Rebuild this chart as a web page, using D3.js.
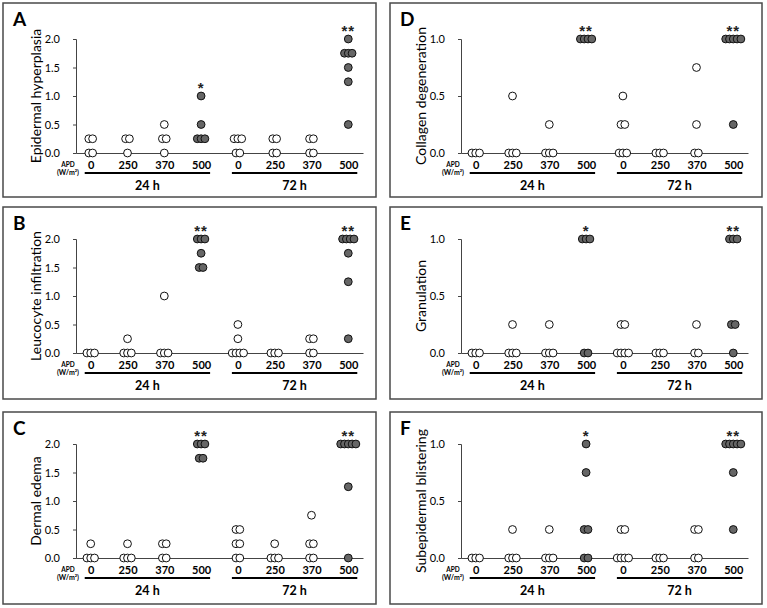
<!DOCTYPE html>
<html>
<head>
<meta charset="utf-8">
<script src="https://cdn.jsdelivr.net/npm/d3@7"></script>
<style>
  body { margin: 0; background: #fff; }
  svg { display: block; font-family: Lato, "Liberation Sans", sans-serif; }
</style>
</head>
<body>
<svg id="chart" width="767" height="608"></svg>
<script>
// doses (W/m2) for each of the 8 groups, two time points
var doses = ["0", "250", "370", "500", "0", "250", "370", "500"];
var periods = ["24 h", "72 h"];
var panelLetters = ["A", "B", "C", "D", "E", "F"];
var scoreNames = ["Epidermal hyperplasia", "Leucocyte infiltration", "Dermal edema",
                  "Collagen degeneration", "Granulation", "Subepidermal blistering"];
var scoreMax = [2, 2, 2, 1, 1, 1];
var ticksTwo = [0, 0.5, 1, 1.5, 2];
var ticksOne = [0, 0.5, 1];

// individual scores per group
var epidermal = [
  [0.25, 0.25, 0, 0],
  [0.25, 0.25, 0],
  [0.5, 0.25, 0.25, 0],
  [1, 0.5, 0.25, 0.25, 0.25],
  [0.25, 0.25, 0.25, 0, 0],
  [0.25, 0.25, 0, 0],
  [0.25, 0.25, 0, 0],
  [2, 1.75, 1.75, 1.75, 1.5, 1.25, 0.5]
];
var leucocyte = [
  [0, 0, 0],
  [0.25, 0, 0, 0],
  [1, 0, 0, 0],
  [2, 2, 2, 1.75, 1.5, 1.5],
  [0.5, 0.25, 0, 0, 0, 0],
  [0, 0, 0],
  [0.25, 0.25, 0, 0],
  [2, 2, 2, 2, 1.75, 1.25, 0.25]
];
var edema = [
  [0.25, 0, 0, 0],
  [0.25, 0, 0, 0],
  [0.25, 0.25, 0, 0],
  [2, 2, 2, 1.75, 1.75],
  [0.5, 0.5, 0.25, 0.25, 0, 0],
  [0.25, 0, 0, 0],
  [0.75, 0.25, 0.25, 0, 0],
  [2, 2, 2, 2, 2, 1.25, 0]
];
var collagen = [
  [0, 0, 0],
  [0.5, 0, 0, 0],
  [0.25, 0, 0, 0],
  [1, 1, 1, 1],
  [0.5, 0.25, 0.25, 0, 0, 0],
  [0, 0, 0],
  [0.75, 0.25, 0, 0],
  [1, 1, 1, 1, 1, 0.25]
];
var granulation = [
  [0, 0, 0],
  [0.25, 0, 0, 0],
  [0.25, 0, 0, 0],
  [1, 1, 1, 0, 0],
  [0.25, 0.25, 0, 0, 0, 0],
  [0, 0, 0],
  [0.25, 0, 0],
  [1, 1, 1, 0.25, 0.25, 0]
];
var blistering = [
  [0, 0, 0],
  [0.25, 0, 0, 0],
  [0.25, 0, 0, 0],
  [1, 0.75, 0.25, 0.25, 0, 0],
  [0.25, 0.25, 0, 0, 0, 0],
  [0, 0, 0],
  [0.25, 0.25, 0, 0],
  [1, 1, 1, 1, 1, 0.75, 0.25]
];
var panelScores = [epidermal, leucocyte, edema, collagen, granulation, blistering];

// significance marks above each group
var sigEpidermal = ["", "", "", "*", "", "", "", "**"];
var sigLeucocyte = ["", "", "", "**", "", "", "", "**"];
var sigEdema = ["", "", "", "**", "", "", "", "**"];
var sigCollagen = ["", "", "", "**", "", "", "", "**"];
var sigGranulation = ["", "", "", "*", "", "", "", "**"];
var sigBlistering = ["", "", "", "*", "", "", "", "**"];
var panelSigs = [sigEpidermal, sigLeucocyte, sigEdema, sigCollagen, sigGranulation, sigBlistering];

var svg = d3.select('#chart');

var colX = [3, 390], colW = [373, 372];
var rowY = [3, 207, 412], rowH = [194, 192, 192];
var plotTop = [39, 239, 444];
var axisX = [76, 461];
var plotW = 287, plotH = 114;
var spread = 3.8;

panelScores.forEach(function (scores, p) {
    var c = p < 3 ? 0 : 1, r = p % 3;
    var g = svg.append('g');

    g.append('rect')
        .attr('x', colX[c]).attr('y', rowY[r])
        .attr('width', colW[c]).attr('height', rowH[r])
        .attr('fill', 'none')
        .attr('stroke', '#4a4a4a')
        .attr('stroke-width', 1.5);

    g.append('text')
        .attr('x', colX[c] + 10).attr('y', rowY[r] + 23)
        .style('font-size', '19px').style('font-weight', 'bold')
        .text(panelLetters[p]);

    var x = d3.scalePoint()
        .domain(d3.range(8))
        .range([axisX[c], axisX[c] + plotW])
        .padding(0.4);

    var y = d3.scaleLinear()
        .domain([0, scoreMax[p]])
        .range([plotTop[r] + plotH, plotTop[r]]);

    // y axis
    var yAxis = d3.axisLeft(y)
        .tickValues(scoreMax[p] === 2 ? ticksTwo : ticksOne)
        .tickFormat(d3.format('.1f'))
        .tickSize(3)
        .tickPadding(13);
    var ya = g.append('g')
        .attr('transform', 'translate(' + axisX[c] + ',0)')
        .call(yAxis);
    ya.selectAll('path, line').attr('stroke', '#444');
    ya.selectAll('text').style('font-size', '11px').style('font-family', 'Lato, sans-serif').attr('fill', '#000');

    // x axis (line plus dose labels)
    var xAxis = d3.axisBottom(x)
        .tickSize(0)
        .tickSizeOuter(0)
        .tickPadding(8)
        .tickFormat(function (i) { return doses[i]; });
    var xa = g.append('g')
        .attr('transform', 'translate(0,' + y(0) + ')')
        .call(xAxis);
    xa.select('.domain').attr('stroke', '#444');
    xa.selectAll('text').style('font-size', '11px').style('font-weight', 'bold')
        .style('font-family', 'Lato, sans-serif').attr('fill', '#000');

    // APD unit label
    var ax = axisX[c] - 8;
    g.append('text').attr('x', ax).attr('y', plotTop[r] + 128)
        .attr('text-anchor', 'middle').style('font-size', '6.5px').style('font-weight', 'bold')
        .text('APD');
    g.append('text').attr('x', ax).attr('y', plotTop[r] + 136)
        .attr('text-anchor', 'middle').style('font-size', '7px').style('font-weight', 'bold')
        .text('(W/m²)');

    // time brackets
    periods.forEach(function (lab, k) {
        var x0 = x(k * 4) - 6, x1 = x(k * 4 + 3) + 9;
        g.append('line')
            .attr('x1', x0).attr('x2', x1)
            .attr('y1', plotTop[r] + 134).attr('y2', plotTop[r] + 134)
            .attr('stroke', '#000').attr('stroke-width', 2);
        g.append('text')
            .attr('x', (x0 + x1) / 2).attr('y', plotTop[r] + 151)
            .attr('text-anchor', 'middle')
            .style('font-size', '12.5px').style('font-weight', 'bold')
            .text(lab);
    });

    // y title
    g.append('text')
        .attr('transform', 'translate(' + (axisX[c] - 35) + ',' + (plotTop[r] + plotH / 2) + ') rotate(-90)')
        .attr('text-anchor', 'middle')
        .style('font-size', '14px')
        .text(scoreNames[p]);

    // dots, spread sideways when values tie
    var dots = [];
    scores.forEach(function (vals, gi) {
        var counts = d3.rollup(vals, function (v) { return v.length; }, function (v) { return v; });
        var seen = new Map();
        vals.forEach(function (v) {
            var k = counts.get(v), j = seen.get(v) || 0;
            seen.set(v, j + 1);
            dots.push({ group: gi, value: v, off: (j - (k - 1) / 2) * spread });
        });
    });

    g.append('g')
        .selectAll('circle')
        .data(dots)
        .enter()
        .append('circle')
        .attr('cx', function (d) { return x(d.group) + d.off; })
        .attr('cy', function (d) { return y(d.value); })
        .attr('r', 3.9)
        .attr('fill', function (d) { return d.group % 4 === 3 ? '#666' : '#fff'; })
        .attr('stroke', '#111')
        .attr('stroke-width', 1);

    // significance stars
    g.append('g')
        .selectAll('text')
        .data(panelSigs[p].map(function (s, gi) { return { s: s, gi: gi }; }).filter(function (d) { return d.s; }))
        .enter()
        .append('text')
        .attr('x', function (d) { return x(d.gi); })
        .attr('y', function (d) { return y(d3.max(scores[d.gi])) - 3; })
        .attr('text-anchor', 'middle')
        .style('font-family', '"Liberation Sans", Arial, sans-serif')
        .style('font-size', '15px')
        .style('font-weight', 'bold')
        .style('letter-spacing', '1px')
        .attr('fill', '#222')
        .text(function (d) { return d.s; });
});
</script>
</body>
</html>
